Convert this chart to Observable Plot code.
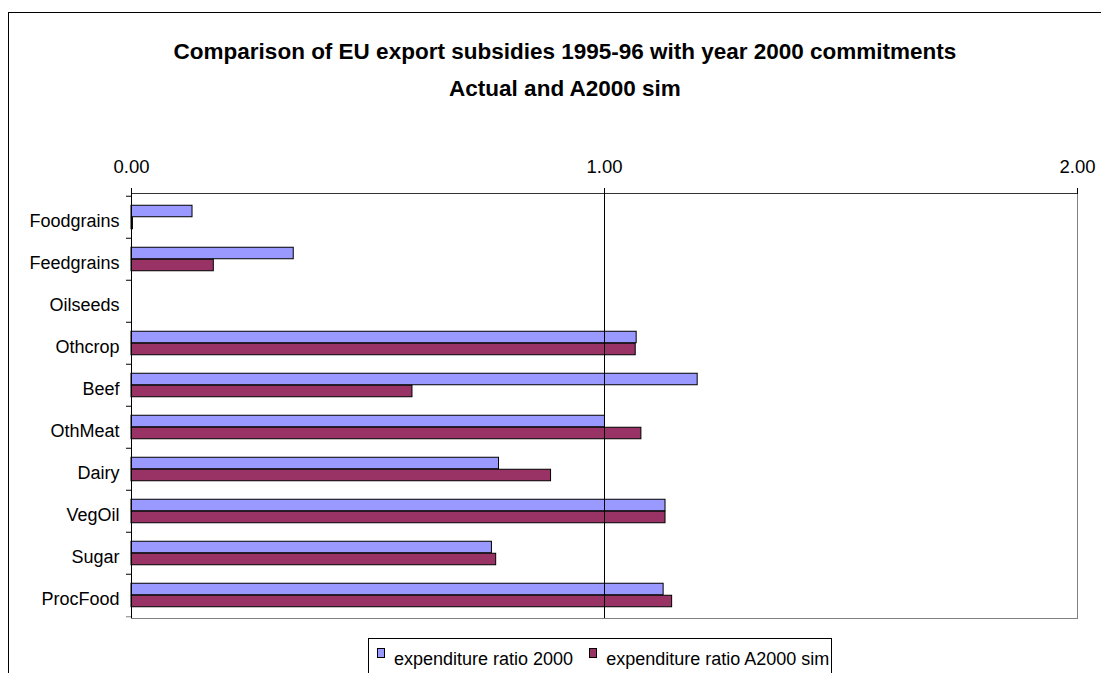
<!DOCTYPE html>
<html>
<head>
<meta charset="utf-8">
<script src="https://cdn.jsdelivr.net/npm/d3@7"></script>
<script src="https://cdn.jsdelivr.net/npm/@observablehq/plot@0.6"></script>
<style>
  html, body { margin: 0; padding: 0; background: #fff; overflow: hidden; }
  body { width: 1101px; height: 673px; position: relative; font-family: "Liberation Sans", Arial, sans-serif; color: #000; }
  #outer { position: absolute; left: 8px; top: 12px; width: 1300px; height: 900px; border: 1px solid #000; box-sizing: border-box; }
  #title { position: absolute; left: 0; top: 33px; width: 1130px; text-align: center; font-weight: bold; font-size: 22.5px; line-height: 37px; }
  #chart { position: absolute; left: 0; top: 130px; }
  #legend { position: absolute; left: 368px; top: 638px; height: 60px; border: 1px solid #000; background: #fff; display: flex; align-items: flex-start; padding-left: 8px; padding-right: 2px; font-size: 18px; line-height: 20px; box-sizing: border-box; white-space: nowrap; }
  .sw { width: 6px; height: 8px; border: 1px solid #000; margin-top: 9px; margin-right: 9px; flex: none; }
  .lt { margin-top: 10px; margin-right: 16px; }
  .lt:last-child { margin-right: 0; }
</style>
</head>
<body>
<div id="outer"></div>
<div id="title">Comparison of EU export subsidies 1995-96 with year 2000 commitments<br>Actual and A2000 sim</div>
<div id="chart"></div>
<div id="legend"></div>
<script>
const categories = ["Foodgrains", "Feedgrains", "Oilseeds", "Othcrop", "Beef", "OthMeat", "Dairy", "VegOil", "Sugar", "ProcFood"];
const seriesNames = ["expenditure ratio 2000", "expenditure ratio A2000 sim"];
const ratio2000  = [0.129, 0.343, 0, 1.068, 1.197, 1.001, 0.777, 1.129, 0.762, 1.125];
const ratioA2000 = [0.003, 0.174, 0, 1.066, 0.594, 1.078, 0.887, 1.129, 0.771, 1.143];
const seriesColors = ["#9999FF", "#993366"];
const xTicks = [0, 1, 2];

const data = [];
categories.forEach((c, i) => {
  data.push({category: c, series: seriesNames[0], value: ratio2000[i]});
  data.push({category: c, series: seriesNames[1], value: ratioA2000[i]});
});

const marginTop = 63, marginBottom = 10, innerH = 425;
const band = innerH / categories.length;
const half = band / 2;
const barH = 12;
const outerGap = (band - 2 * barH) / 2;

const chart = Plot.plot({
  width: 1101,
  height: marginTop + innerH + marginBottom,
  marginTop, marginBottom,
  marginLeft: 131,
  marginRight: 24,
  style: {fontFamily: "'Liberation Sans', Arial, sans-serif", fontSize: "18px", color: "#000", background: "transparent", overflow: "visible"},
  x: {domain: [0, 2], axis: null, label: null},
  y: {domain: categories, padding: 0, axis: null, label: null},
  marks: [
    Plot.frame({stroke: "#808080"}),
    Plot.frame({anchor: "top", stroke: "#333"}),
    Plot.barX(data.filter(d => d.series === seriesNames[0]), {
      y: "category", x: "value", fill: seriesColors[0], stroke: "#000", strokeWidth: 1,
      insetTop: outerGap, insetBottom: band - outerGap - barH
    }),
    Plot.barX(data.filter(d => d.series === seriesNames[1]), {
      y: "category", x: "value", fill: seriesColors[1], stroke: "#000", strokeWidth: 1,
      insetTop: outerGap + barH, insetBottom: outerGap
    }),
    Plot.ruleX([0, 1], {stroke: "#000"}),
    Plot.axisX({anchor: "top", ticks: xTicks, tickFormat: d3.format(".2f"), tickSize: 6, tickPadding: 15, fontSize: 18.5, stroke: "#000", label: null}),
    Plot.axisY({anchor: "left", tickSize: 0, tickPadding: 12, fontSize: 18, dy: 4, label: null}),
    Plot.axisY({anchor: "left", tickSize: 5, tickFormat: () => "", dy: -half, stroke: "#000", label: null}),
    Plot.axisY({anchor: "left", ticks: [categories[categories.length - 1]], tickSize: 5, tickFormat: () => "", dy: half, stroke: "#808080", label: null})
  ]
});
document.getElementById("chart").appendChild(chart);

const legend = document.getElementById("legend");
seriesNames.forEach((name, i) => {
  const sw = document.createElement("div");
  sw.className = "sw";
  sw.style.background = seriesColors[i];
  legend.appendChild(sw);
  const t = document.createElement("div");
  t.className = "lt";
  t.textContent = name;
  legend.appendChild(t);
});
</script>
</body>
</html>
